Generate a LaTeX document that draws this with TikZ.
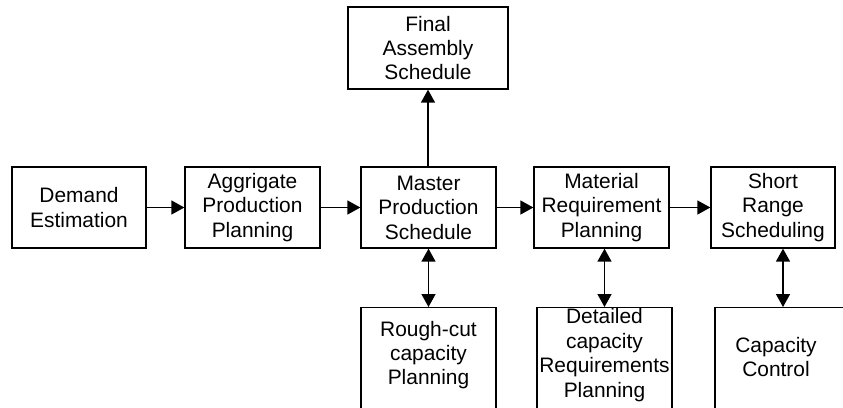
\documentclass[tikz,border=0pt]{standalone}
\usepackage{fontspec}
\setmainfont{Liberation Sans}
\usetikzlibrary{arrows.meta}
\begin{document}
\begin{tikzpicture}[x=1bp,y=-1bp,
  box/.style={draw, line width=1.3bp, inner sep=0pt, minimum height=81bp,
    align=center, font=\fontsize{21}{24.5}\selectfont},
  openbox/.style={draw, line width=1.3bp, inner sep=0pt, anchor=north,
    minimum height=120bp},
  txt/.style={inner sep=0pt, align=center, font=\fontsize{21}{24.5}\selectfont},
  tip/.style={Triangle[length=13bp,width=14bp]},
  flow/.style={line width=1.4bp, -{Triangle[length=13bp,width=14bp]}},
  twoway/.style={line width=1.4bp, {Triangle[length=13bp,width=14bp]}-{Triangle[length=13bp,width=14bp]}}]
\useasboundingbox (0,0) rectangle (843,407);
\clip (0,0) rectangle (843,407);

% main planning chain
\node[box, minimum width=134bp] (demand) at (79,207.5) {Demand\\Estimation};
\node[box, minimum width=135bp] (aggr) at (252.5,207.5) {Aggrigate\\Production\\Planning};
\node[box, minimum width=135bp] (mps) at (428.5,207.5) {Master\\Production\\Schedule};
\node[box, minimum width=135bp] (mrp) at (601.5,207.5) {Material\\Requirement\\Planning};
\node[box, minimum width=124bp] (srs) at (773,207.5) {Short\\Range\\Scheduling};

% final assembly above the master schedule
\node[box, minimum width=160bp, minimum height=82bp] (fas) at (428,48) {Final\\Assembly\\Schedule};

% capacity boxes below, running off the lower edge
\node[openbox, minimum width=135bp] (rccp) at (428.5,307) {};
\node[txt] (rccpt) at (428.5,355) {Rough-cut\\capacity\\Planning};
\node[openbox, minimum width=135bp] (crp) at (604.5,307) {};
\node[txt] (crpt) at (604.5,355) {Detailed\\capacity\\Requirements\\Planning};
\node[openbox, minimum width=136bp] (cc) at (783,307) {};
\node[txt] (cct) at (776,357) {Capacity\\Control};

% connectors
\draw[flow] (demand) -- (aggr);
\draw[flow] (aggr) -- (mps);
\draw[flow] (mps) -- (mrp);
\draw[flow] (mrp) -- (srs);
\draw[flow] (mps.north -| fas.south) -- (fas.south);
\draw[twoway] (mps.south -| rccp.north) -- (rccp.north);
\draw[twoway] (crp.north |- mrp.south) -- (crp.north);
\draw[twoway] (cc.north |- srs.south) -- (cc.north);
\end{tikzpicture}
\end{document}
